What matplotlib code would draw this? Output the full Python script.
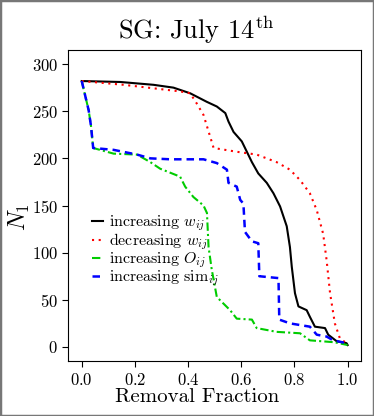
import matplotlib
matplotlib.use("Agg")
import matplotlib.pyplot as plt
from matplotlib.patches import Rectangle

plt.rcParams['font.family'] = 'serif'
plt.rcParams['font.serif'] = ['cmr10', 'DejaVu Serif']
plt.rcParams['mathtext.fontset'] = 'cm'
plt.rcParams['axes.formatter.use_mathtext'] = True
plt.rcParams['axes.unicode_minus'] = False

# increasing w_ij
x_inc_w = [0.0, 0.145, 0.27, 0.345, 0.408, 0.47, 0.508, 0.54, 0.552, 0.571, 0.602, 0.621,
           0.64, 0.664, 0.696, 0.721, 0.746, 0.771, 0.783, 0.79, 0.802, 0.815, 0.846,
           0.858, 0.877, 0.915, 0.927, 0.959, 0.996, 1.0]
y_inc_w = [282, 281, 278, 275, 269, 260, 255, 248, 239, 228, 218, 207,
           196, 184, 174, 163, 149, 128, 106, 85, 57, 43, 39,
           32, 21.5, 20, 13, 6, 4, 2]

# decreasing w_ij
x_dec_w = [0.0, 0.158, 0.37, 0.408, 0.433, 0.458, 0.483, 0.496, 0.583, 0.658, 0.733,
           0.783, 0.821, 0.858, 0.884, 0.908, 0.921, 0.934, 0.952, 0.971, 0.996, 1.0]
y_dec_w = [282, 278, 271, 269, 258, 246, 223, 211, 207, 204, 196,
           188, 177, 163, 145, 120, 92, 57, 25, 9, 4, 2]

# increasing O_ij
x_inc_o = [0.0, 0.026, 0.035, 0.043, 0.12, 0.208, 0.258, 0.295, 0.37, 0.389, 0.42, 0.458,
           0.471, 0.477, 0.489, 0.508, 0.558, 0.583, 0.64, 0.658, 0.733, 0.821, 0.858,
           0.95, 1.0]
y_inc_o = [282, 251, 234, 211, 205, 204, 196, 189, 180.6, 170, 159, 150,
           142, 106, 82, 53, 39, 30, 29, 20, 16, 14.5, 7,
           5, 2]

# increasing sim_ij
x_inc_s = [0.0, 0.026, 0.035, 0.043, 0.12, 0.208, 0.258, 0.333, 0.458, 0.508, 0.546, 0.552,
           0.583, 0.596, 0.608, 0.614, 0.64, 0.664, 0.668, 0.74, 0.743, 0.783, 0.858,
           0.884, 0.921, 0.946, 0.996, 1.0]
y_inc_s = [282, 251, 234, 211, 209, 204, 200, 199, 199, 195, 188, 174,
           170, 156, 152, 122, 112, 110, 75, 73, 29, 25, 21.5,
           13, 11, 7, 4, 2]

labels = [r'increasing $w_{ij}$', r'decreasing $w_{ij}$',
          r'increasing $O_{ij}$', r'increasing $\mathrm{sim}_{ij}$']
xticks = [0.0, 0.2, 0.4, 0.6, 0.8, 1.0]
yticks = [0, 50, 100, 150, 200, 250, 300]

fig = plt.figure(figsize=(3.74, 4.16), dpi=100)
ax = fig.add_axes([0.183, 0.132, 0.782, 0.748])

ax.plot(x_inc_w, y_inc_w, color='black', lw=1.5, ls='-', label=labels[0])
ax.plot(x_dec_w, y_dec_w, color='#ff0000', lw=1.5, ls=(0, (1, 2.2)), label=labels[1])
ax.plot(x_inc_o, y_inc_o, color='#00cc00', lw=1.5, ls=(0, (4, 1.5, 1, 1.5)), label=labels[2])
ax.plot(x_inc_s, y_inc_s, color='#0000ff', lw=1.8, ls=(0, (3, 2)), label=labels[3])

ax.set_xlim(-0.05, 1.05)
ax.set_ylim(-15, 315)
ax.set_xticks(xticks)
ax.set_yticks(yticks)
ax.tick_params(labelsize=12, length=4, direction='out', pad=3.5)

ax.set_xlabel('Removal Fraction', fontsize=15)
ax.xaxis.label.set_va('baseline')
ax.xaxis.set_label_coords(0.44, -0.132)

ax.set_ylabel(r'$N_1$', fontsize=17)
ax.yaxis.label.set_va('center')
ax.yaxis.set_label_coords(-0.168, 0.463)

ax.set_title(r'SG: July 14$^{\mathrm{th}}$', fontsize=19, x=0.435, y=1.035, pad=0)

ax.legend(loc='center left', bbox_to_anchor=(0.081, 0.354), frameon=False,
          fontsize=11.5, handlelength=0.7, handletextpad=0.38, labelspacing=-0.1,
          borderaxespad=0.0, borderpad=0.0)

fig.patches.append(Rectangle((0, 0), 1, 1, transform=fig.transFigure,
                             fill=False, edgecolor='#777777', lw=2.5))

fig.savefig('out.png', dpi=100)
